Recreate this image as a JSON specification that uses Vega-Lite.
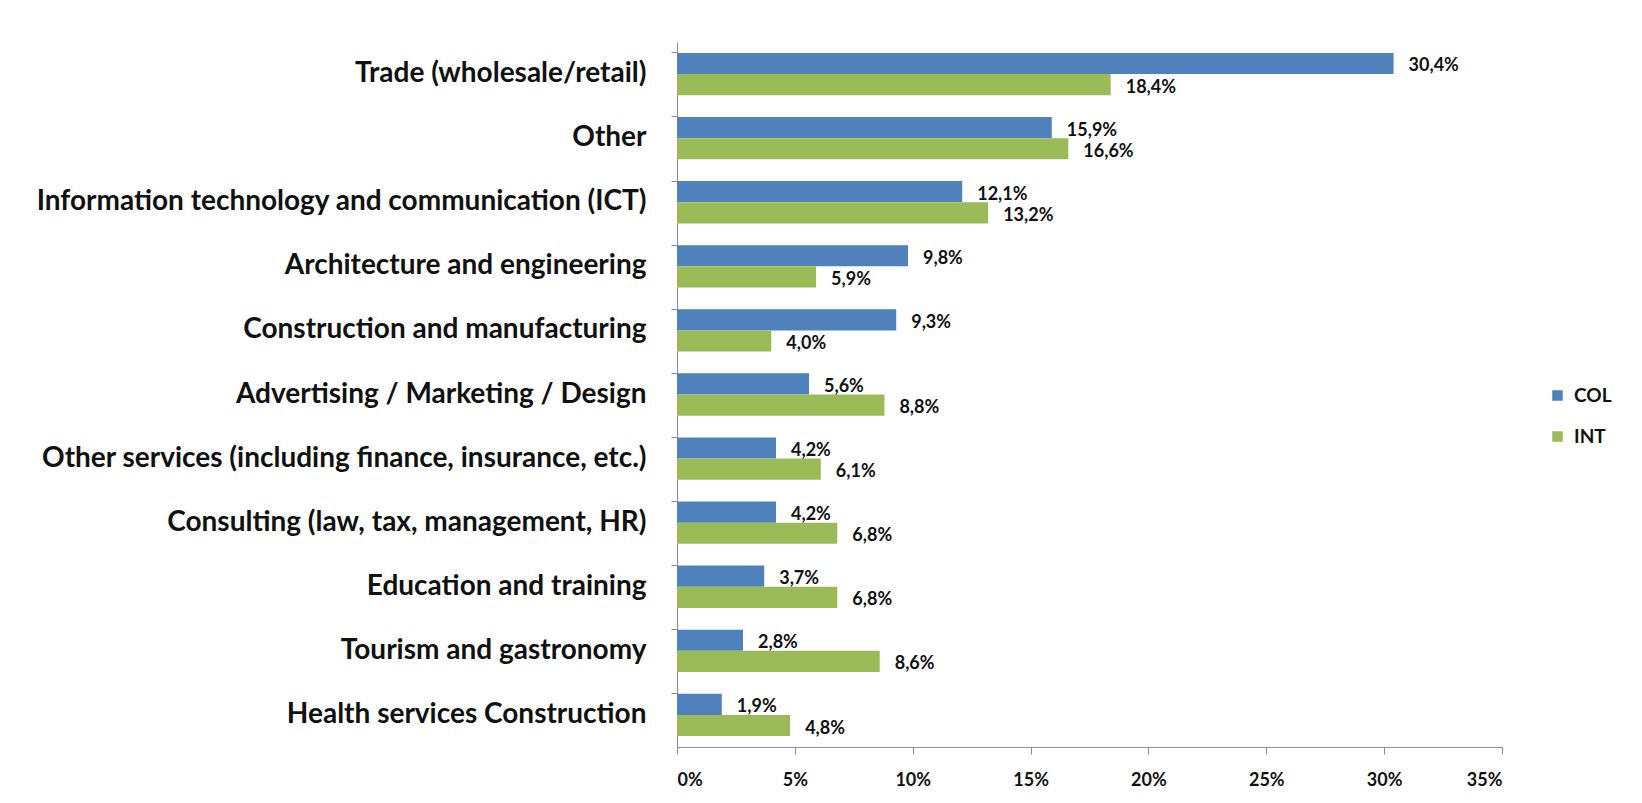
{
  "$schema": "https://vega.github.io/schema/vega-lite/v6.json",
  "autosize": {"type": "none"},
  "width": 825,
  "height": 705,
  "padding": {"left": 677, "top": 42, "right": 140, "bottom": 56},
  "background": "white",
  "config": {
    "locale": {"number": {"decimal": ",", "thousands": ".", "grouping": [3], "currency": ["", " €"]}},
    "view": {"stroke": null},
    "font": "Lato"
  },
  "data": {
    "values": [
      {"sector": "Trade (wholesale/retail)", "series": "COL", "value": 0.304},
      {"sector": "Trade (wholesale/retail)", "series": "INT", "value": 0.184},
      {"sector": "Other", "series": "COL", "value": 0.159},
      {"sector": "Other", "series": "INT", "value": 0.166},
      {"sector": "Information technology and communication (ICT)", "series": "COL", "value": 0.121},
      {"sector": "Information technology and communication (ICT)", "series": "INT", "value": 0.132},
      {"sector": "Architecture and engineering", "series": "COL", "value": 0.098},
      {"sector": "Architecture and engineering", "series": "INT", "value": 0.059},
      {"sector": "Construction and manufacturing", "series": "COL", "value": 0.093},
      {"sector": "Construction and manufacturing", "series": "INT", "value": 0.040},
      {"sector": "Advertising / Marketing / Design", "series": "COL", "value": 0.056},
      {"sector": "Advertising / Marketing / Design", "series": "INT", "value": 0.088},
      {"sector": "Other services (including finance, insurance, etc.)", "series": "COL", "value": 0.042},
      {"sector": "Other services (including finance, insurance, etc.)", "series": "INT", "value": 0.061},
      {"sector": "Consulting (law, tax, management, HR)", "series": "COL", "value": 0.042},
      {"sector": "Consulting (law, tax, management, HR)", "series": "INT", "value": 0.068},
      {"sector": "Education and training", "series": "COL", "value": 0.037},
      {"sector": "Education and training", "series": "INT", "value": 0.068},
      {"sector": "Tourism and gastronomy", "series": "COL", "value": 0.028},
      {"sector": "Tourism and gastronomy", "series": "INT", "value": 0.086},
      {"sector": "Health services Construction", "series": "COL", "value": 0.019},
      {"sector": "Health services Construction", "series": "INT", "value": 0.048}
    ]
  },
  "encoding": {
    "y": {
      "field": "sector", "type": "nominal", "sort": null,
      "scale": {"paddingInner": 0.34, "paddingOuter": 0.17},
      "axis": {
        "title": null, "bandPosition": 0, "grid": false,
        "domainColor": "#8c8c8c", "tickColor": "#8c8c8c", "tickSize": 6,
        "labelFont": "Lato", "labelFontWeight": "bold", "labelFontSize": 28,
        "labelColor": "#111111", "labelLimit": 800, "labelPadding": 25
      }
    },
    "yOffset": {"field": "series", "type": "nominal", "sort": ["COL", "INT"]},
    "x": {
      "field": "value", "type": "quantitative",
      "scale": {"domain": [0, 0.35], "nice": false},
      "axis": {
        "title": null, "format": ".0%", "values": [0, 0.05, 0.1, 0.15, 0.2, 0.25, 0.3, 0.35],
        "grid": false, "domainColor": "#8c8c8c", "tickColor": "#8c8c8c", "tickSize": 7,
        "labelFont": "Lato", "labelFontWeight": "bold", "labelFontSize": 18,
        "labelColor": "#111111", "labelPadding": 17
      }
    }
  },
  "layer": [
    {
      "mark": {"type": "bar"},
      "encoding": {
        "color": {
          "field": "series", "type": "nominal",
          "scale": {"domain": ["COL", "INT"], "range": ["#4F81BD", "#9BBB59"]},
          "legend": {
            "title": null, "orient": "none", "legendX": 871, "legendY": 344,
            "symbolType": "square", "symbolSize": 110, "symbolStrokeWidth": 0,
            "labelFont": "Lato", "labelFontWeight": "bold", "labelFontSize": 19,
            "labelColor": "#111111", "rowPadding": 21, "labelOffset": 7
          }
        }
      }
    },
    {
      "mark": {"type": "text", "align": "left", "baseline": "middle", "dx": 15, "dy": 3,
        "font": "Lato", "fontWeight": "bold", "fontSize": 18, "color": "#111111"},
      "encoding": {
        "text": {"field": "value", "type": "quantitative", "format": ".1%"}
      }
    }
  ]
}
